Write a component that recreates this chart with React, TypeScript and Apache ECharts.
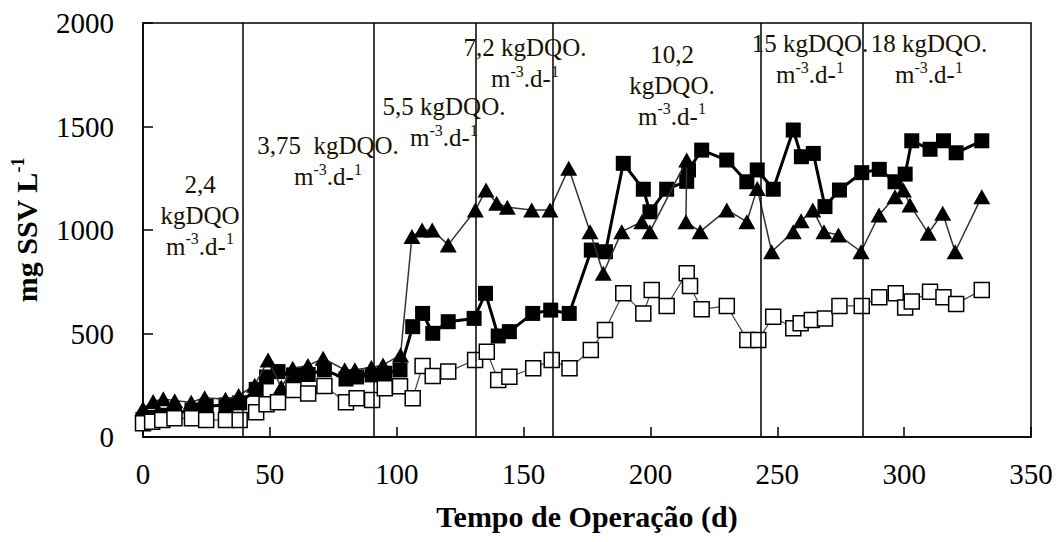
import React, { useEffect, useRef } from "react";
import * as echarts from "echarts";

// ---- data ----
const filledSquares: [number, number][] = [
  [0, 85], [3.6, 95], [7.6, 105], [12.4, 112], [19.3, 130], [24.9, 148], [32.7, 155], [38.1, 165],
  [44.6, 230], [48.7, 290], [53.2, 316], [59.3, 300], [65.1, 302], [71.5, 325], [80, 280], [84.2, 290],
  [90.3, 300], [95.3, 308], [101.3, 324], [106.3, 533], [110.2, 597], [114.2, 501], [120.3, 557],
  [130.5, 573], [135, 694], [140, 488], [144.4, 509], [153.6, 597], [160.7, 613], [168, 597],
  [176.7, 903], [182.3, 895], [189.3, 1322], [197.2, 1197], [199.8, 1088], [206.4, 1197],
  [214.3, 1235], [215, 1290], [220.2, 1386], [230.1, 1338], [238, 1233], [242.1, 1290], [248.4, 1197],
  [256.3, 1483], [259.5, 1354], [264.2, 1370], [268.8, 1113], [274.5, 1193], [283.3, 1277],
  [290.2, 1293], [296.4, 1233], [300.4, 1270], [303, 1431], [310.2, 1390], [315.5, 1431],
  [320.5, 1373], [330.6, 1431],
];

const triangles: [number, number][] = [
  [0, 138], [4, 171], [8, 185], [12.5, 175], [19, 168], [24.3, 190], [32.5, 182], [37.7, 200],
  [44, 250], [49.3, 372], [54.5, 240], [59, 332], [65, 345], [71, 380], [79.5, 325], [83.5, 325],
  [90, 336], [94.6, 348], [101.5, 396], [106, 968], [110, 1000], [114, 1000], [120.3, 928],
  [131, 1097], [135.2, 1193], [139.4, 1129], [143.6, 1110], [153.2, 1097], [160.4, 1097],
  [167.8, 1298], [176.2, 992], [181.4, 791], [188.7, 992], [196.6, 1040], [199.8, 992],
  [214.3, 1338], [214, 1040], [219.6, 992], [230.1, 1097], [238, 1040], [242.1, 1201],
  [247.8, 895], [256.3, 992], [259.4, 1045], [264, 1097], [268.4, 992], [274.1, 976], [283, 895],
  [290.1, 1072], [296.4, 1161], [299.7, 1193], [302.3, 1121], [309.5, 984], [315.2, 1081],
  [320.1, 895], [330.6, 1161],
];

const openSquares: [number, number][] = [
  [0, 66], [3.6, 74], [7.6, 82], [12.4, 90], [19.3, 90], [24.9, 82], [32.7, 82], [38.1, 82],
  [44.6, 120], [48.7, 158], [53.2, 168], [59.3, 227], [65.1, 210], [71.5, 246], [80, 168],
  [84.2, 187], [90.3, 179], [95.3, 235], [101.3, 245], [106.3, 187], [110.2, 343], [114.2, 295],
  [120.3, 316], [130.9, 372], [135.5, 412], [140, 275], [144.4, 291], [153.8, 332], [161.1, 372],
  [168.1, 332], [176.5, 420], [182.1, 517], [189.3, 694], [197.2, 597], [200.5, 710], [206.4, 633],
  [214.3, 791], [215.6, 729], [220.2, 617], [230.1, 633], [238.2, 469], [242.5, 469], [248.4, 581],
  [256.3, 525], [259.2, 550], [263.6, 565], [268.8, 573], [274.5, 633], [283.3, 633], [290.2, 675],
  [296.7, 694], [300.4, 626], [303, 654], [310.2, 702], [315.5, 675], [320.5, 643], [330.6, 710],
];

const phaseBoundaries: number[] = [39.5, 91, 131, 161.5, 243.5, 283.5];

const phaseLabels: string[] = [
  "2,4\nkgDQO\nm{sup|-3}.d-{sup|1}",
  "3,75  kgDQO.\nm{sup|-3}.d-{sup|1}",
  "5,5 kgDQO.\nm{sup|-3}.d-{sup|1}",
  "7,2 kgDQO.\nm{sup|-3}.d-{sup|1}",
  "10,2\nkgDQO.\nm{sup|-3}.d-{sup|1}",
  "15 kgDQO.\nm{sup|-3}.d-{sup|1}",
  "18 kgDQO.\nm{sup|-3}.d-{sup|1}",
];

const xTitle = "Tempo de Operação (d)";
const yTitle = "mg SSV L{sup|-1}";

const FONT = '"Liberation Serif", "Times New Roman", serif';

export default function App() {
  const ref = useRef<HTMLDivElement>(null);
  useEffect(() => {
    if (!ref.current) return;
    const chart = echarts.init(ref.current, undefined, { renderer: "svg" });

    // label anchor positions (pixels, center x / center y of the block)
    const labelPos: [number, number][] = [
      [200, 215],
      [328, 161],
      [444, 122],
      [525, 63],
      [672, 85],
      [810, 59],
      [929, 59],
    ];

    const graphics = phaseLabels.map((t, i) => ({
      type: "text",
      x: labelPos[i][0],
      y: labelPos[i][1],
      silent: true,
      z: 100,
      style: {
        text: t,
        fill: "#1a1200",
        fontSize: 25,
        fontFamily: FONT,
        align: "center",
        verticalAlign: "middle",
        lineHeight: 31,
        rich: {
          sup: { fontSize: 16, fontFamily: FONT, fill: "#1a1200", verticalAlign: "top", lineHeight: 18 },
        },
      },
    }));

    chart.setOption({
      animation: false,
      backgroundColor: "#fff",
      grid: {
        left: 143,
        top: 23,
        right: 31,
        bottom: 105,
        show: true,
        borderColor: "#000",
        borderWidth: 1.5,
        containLabel: false,
        outerBoundsMode: "none",
      },
      xAxis: {
        type: "value",
        min: 0,
        max: 350,
        interval: 50,
        name: xTitle,
        nameLocation: "middle",
        nameGap: 64,
        nameTextStyle: { fontSize: 30, fontWeight: "bold", fontFamily: FONT, color: "#000" },
        axisLine: { show: true, lineStyle: { color: "#000", width: 1.5 } },
        axisTick: { show: true, inside: true, length: 10, lineStyle: { color: "#000", width: 1.5 } },
        axisLabel: { fontSize: 29, fontFamily: FONT, color: "#000", margin: 22, formatter: (v: number) => String(v) },
        splitLine: { show: false },
      },
      yAxis: {
        type: "value",
        min: 0,
        max: 2000,
        interval: 500,
        name: yTitle,
        nameLocation: "middle",
        nameGap: 100,
        nameRotate: 90,
        nameTextStyle: {
          fontSize: 30,
          fontWeight: "bold",
          fontFamily: FONT,
          color: "#000",
          lineHeight: 34,
          rich: {
            sup: { fontSize: 18, fontWeight: "bold", fontFamily: FONT, color: "#000", verticalAlign: "top", lineHeight: 20 },
          },
        },
        axisLine: { show: true, lineStyle: { color: "#000", width: 1.5 } },
        axisTick: { show: true, inside: true, length: 10, lineStyle: { color: "#000", width: 1.5 } },
        axisLabel: { fontSize: 29, fontFamily: FONT, color: "#000", margin: 29, formatter: (v: number) => String(v) },
        splitLine: { show: false },
      },
      graphic: graphics,
      series: [
        {
          type: "line",
          name: "filled",
          data: filledSquares,
          symbol: "rect",
          symbolSize: 15,
          itemStyle: { color: "#000" },
          lineStyle: { color: "#000", width: 3 },
          z: 2,
          markLine: {
            silent: true,
            symbol: "none",
            label: { show: false },
            lineStyle: { color: "#000", width: 1.5, type: "solid" },
            data: phaseBoundaries.map((d) => ({ xAxis: d })),
          },
        },
        {
          type: "line",
          name: "triangles",
          data: triangles,
          symbol: "triangle",
          symbolSize: [17, 15],
          itemStyle: { color: "#000" },
          lineStyle: { color: "#333", width: 1.5 },
          z: 3,
        },
        {
          type: "line",
          name: "open",
          data: openSquares,
          symbol: "rect",
          symbolSize: 15,
          itemStyle: { color: "#fff", borderColor: "#000", borderWidth: 1.5 },
          lineStyle: { color: "#444", width: 1.2 },
          z: 4,
        },
      ],
    });
    return () => chart.dispose();
  }, []);
  return <div ref={ref} style={{ position: "fixed", left: 0, top: 0, width: 1062, height: 542 }} />;
}
